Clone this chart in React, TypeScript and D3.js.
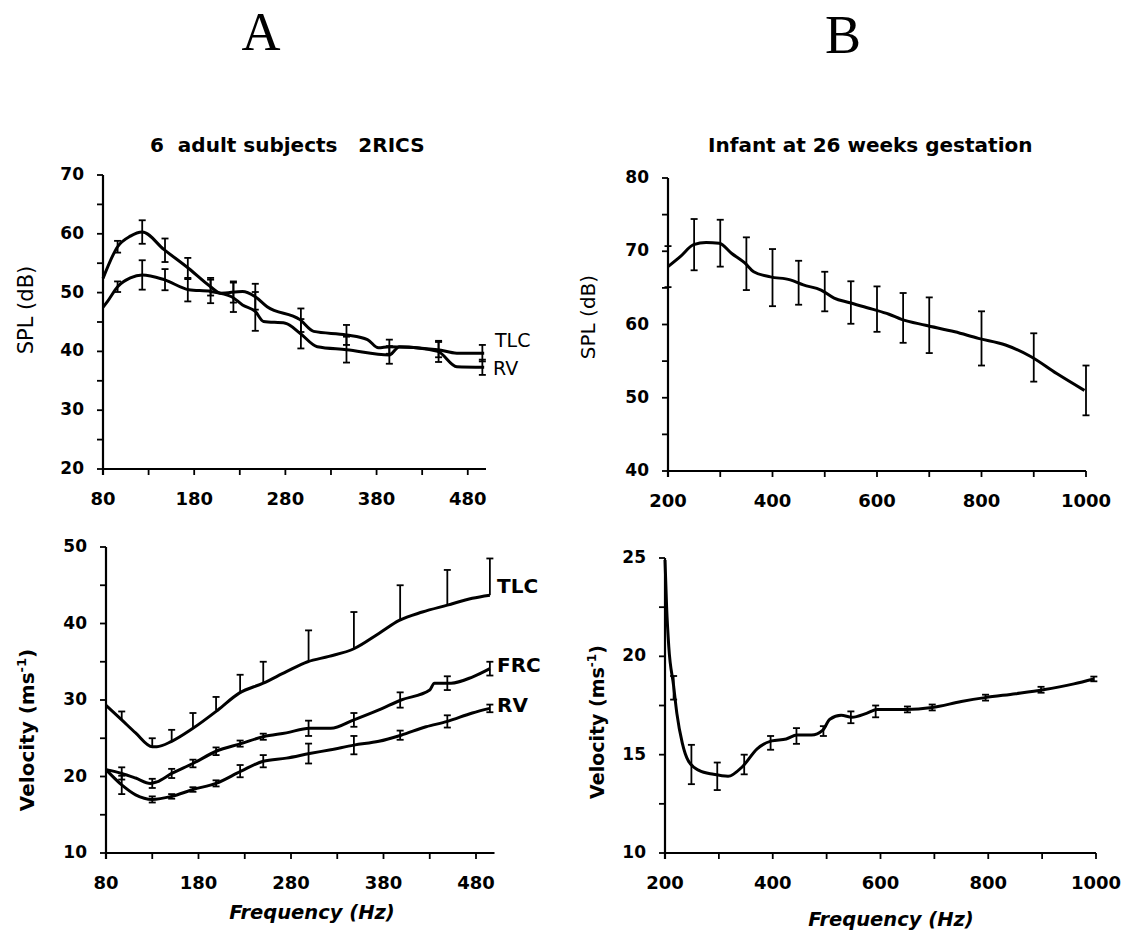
import React from 'react';
import * as d3 from 'd3';

// ---------- Panel A (top): SPL, 6 adult subjects ----------
const aSplTlcFreq = [80, 96, 110, 123, 147, 174, 198, 209, 233, 247, 260, 296, 311, 347, 370, 382, 394, 447, 468, 498];
const aSplTlcVal = [52.4, 57.8, 59.6, 60.3, 57.3, 54.1, 51.0, 49.9, 50.2, 49.3, 47.6, 45.4, 43.4, 42.8, 42.0, 40.6, 40.8, 40.3, 39.7, 39.7];
const aSplRvFreq = [80, 85, 96, 110, 123, 147, 174, 198, 221, 233, 247, 256, 280, 296, 315, 347, 394, 405, 447, 468, 498];
const aSplRvVal = [47.5, 48.5, 51.0, 52.5, 53.0, 52.2, 50.5, 50.2, 49.3, 47.9, 46.8, 45.1, 44.8, 43.1, 40.8, 40.3, 39.4, 40.8, 40.0, 37.4, 37.3];
const aSplErrFreq = [96, 123, 148, 173, 198, 223, 247, 297, 347, 394, 448, 496];
const aSplTlcErrMid = [57.8, 60.3, 57.2, 54.1, 51.0, 50.1, 49.3, 45.3, 42.8, 40.8, 40.3, 39.7];
const aSplTlcErr = [1.0, 2.0, 2.0, 1.8, 1.5, 1.8, 2.2, 2.0, 1.7, 1.2, 1.3, 1.4];
const aSplRvErrMid = [51.0, 53.0, 52.2, 50.5, 50.2, 49.2, 46.8, 43.0, 40.3, 39.4, 40.0, 37.3];
const aSplRvErr = [0.9, 2.5, 1.8, 2.0, 2.0, 2.5, 3.3, 2.5, 2.2, 1.5, 1.8, 1.3];

// ---------- Panel B (top): SPL, infant ----------
const bSplFreq = [200, 224, 249, 273, 298, 322, 347, 364, 396, 434, 459, 493, 518, 546, 591, 623, 647, 693, 749, 794, 846, 895, 944, 997];
const bSplVal = [67.9, 69.3, 70.9, 71.2, 71.1, 69.7, 68.4, 67.2, 66.5, 66.1, 65.4, 64.7, 63.6, 63.0, 62.1, 61.4, 60.7, 59.9, 59.0, 58.1, 57.2, 55.6, 53.3, 51.0];
const bSplErrFreq = [200, 250, 300, 350, 400, 450, 500, 550, 600, 650, 700, 800, 900, 1000];
const bSplErrMid = [67.9, 70.9, 71.1, 68.3, 66.4, 65.7, 64.5, 63.0, 62.1, 60.9, 59.9, 58.1, 55.5, 51.0];
const bSplErr = [2.8, 3.5, 3.2, 3.6, 3.9, 3.0, 2.7, 2.9, 3.1, 3.4, 3.8, 3.7, 3.3, 3.4];

// ---------- Panel A (bottom): velocity, adults ----------
const aVelTlcFreq = [80, 97, 112, 130, 135, 151, 174, 201, 224, 250, 275, 298, 321, 348, 375, 397, 422, 449, 476, 495];
const aVelTlcVal = [29.3, 27.4, 25.7, 23.9, 23.9, 24.6, 26.3, 28.7, 30.9, 32.2, 33.7, 35.0, 35.7, 36.7, 38.7, 40.4, 41.5, 42.4, 43.3, 43.7];
const aVelFrcFreq = [80, 97, 112, 128, 135, 151, 174, 199, 226, 250, 275, 300, 323, 348, 375, 399, 430, 435, 453, 476, 495];
const aVelFrcVal = [20.9, 20.4, 19.8, 19.1, 19.3, 20.4, 21.7, 23.3, 24.3, 25.2, 25.7, 26.3, 26.3, 27.4, 28.7, 30.0, 31.3, 32.2, 32.2, 33.0, 34.1];
const aVelRvFreq = [80, 97, 112, 130, 151, 174, 199, 226, 250, 275, 300, 323, 348, 375, 399, 426, 449, 476, 495];
const aVelRvVal = [20.9, 18.9, 17.6, 17.0, 17.4, 18.3, 19.1, 20.7, 22.0, 22.4, 23.0, 23.5, 24.1, 24.6, 25.4, 26.5, 27.2, 28.3, 28.9];
const aVelErrFreq = [97, 130, 151, 174, 199, 225, 250, 299, 348, 398, 449, 495];
const aVelTlcErrMid = [27.4, 23.9, 24.6, 26.3, 28.7, 30.9, 32.2, 35.0, 36.7, 40.4, 42.4, 43.7];
const aVelTlcErrUp = [1.1, 1.1, 1.5, 2.0, 1.7, 2.4, 2.8, 4.1, 4.8, 4.6, 4.6, 4.8];
const aVelFrcErrMid = [20.4, 19.1, 20.4, 21.7, 23.3, 24.3, 25.2, 26.3, 27.4, 30.0, 32.2, 34.1];
const aVelFrcErr = [0.8, 0.6, 0.6, 0.5, 0.5, 0.4, 0.4, 1.0, 0.9, 1.0, 0.9, 0.9];
const aVelRvErrMid = [18.9, 17.0, 17.4, 18.3, 19.1, 20.7, 22.0, 23.0, 24.1, 25.4, 27.2, 28.9];
const aVelRvErr = [1.2, 0.4, 0.3, 0.3, 0.4, 0.8, 0.8, 1.3, 1.2, 0.6, 0.8, 0.5];

// ---------- Panel B (bottom): velocity, infant ----------
const bVelFreq = [200, 203, 207, 216, 222, 232, 243, 263, 290, 317, 344, 371, 398, 425, 445, 472, 493, 506, 527, 547, 574, 594, 648, 696, 750, 794, 851, 902, 959, 996];
const bVelVal = [24.9, 22.5, 20.5, 18.5, 17.1, 15.6, 14.7, 14.2, 14.0, 13.9, 14.4, 15.3, 15.7, 15.8, 16.0, 16.0, 16.25, 16.8, 17.0, 16.9, 17.1, 17.3, 17.3, 17.4, 17.7, 17.9, 18.1, 18.3, 18.6, 18.85];
const bVelErrFreq = [216, 249, 297, 347, 396, 444, 494, 545, 591, 650, 696, 795, 898, 996];
const bVelErrMid = [18.4, 14.5, 13.9, 14.5, 15.6, 15.95, 16.2, 16.9, 17.2, 17.3, 17.4, 17.9, 18.3, 18.85];
const bVelErr = [0.6, 1.0, 0.7, 0.5, 0.35, 0.4, 0.25, 0.3, 0.3, 0.15, 0.15, 0.15, 0.15, 0.12];

// ---------- Axis ticks ----------
const adultFreqTicks = [80, 130, 180, 230, 280, 330, 380, 430, 480];
const adultFreqLabels = [80, 180, 280, 380, 480];
const infantFreqTicks = [200, 300, 400, 500, 600, 700, 800, 900, 1000];
const infantFreqLabels = [200, 400, 600, 800, 1000];
const aSplTicks = [20, 25, 30, 35, 40, 45, 50, 55, 60, 65, 70];
const aSplLabels = [20, 30, 40, 50, 60, 70];
const bSplTicks = [40, 45, 50, 55, 60, 65, 70, 75, 80];
const bSplLabels = [40, 50, 60, 70, 80];
const aVelTicks = [10, 15, 20, 25, 30, 35, 40, 45, 50];
const aVelLabels = [10, 20, 30, 40, 50];
const bVelTicks = [10, 12.5, 15, 17.5, 20, 22.5, 25];
const bVelLabels = [10, 15, 20, 25];

const SANS = "'DejaVu Sans', Verdana, sans-serif";

type Series = { freq: number[]; values: number[]; key: string };
type ErrSet = { freq: number[]; mid: number[]; err: number[]; upperOnly?: boolean; key: string };
type Label = { text: string; x: number; y: number; bold?: boolean; size: number };

type PanelProps = {
  xDomain: [number, number];
  xRange: [number, number];
  yDomain: [number, number];
  yRange: [number, number];
  xTicks: number[];
  xLabels: number[];
  yTicks: number[];
  yLabels: number[];
  series: Series[];
  errs: ErrSet[];
  labels: Label[];
  xAxisEnd: number;
};

function Panel(p: PanelProps) {
  const x = d3.scaleLinear().domain(p.xDomain).range(p.xRange);
  const y = d3.scaleLinear().domain(p.yDomain).range(p.yRange);
  const x0 = x(p.xDomain[0]);
  const yBottom = y(p.yDomain[0]);
  const yTop = y(p.yDomain[1]);
  const line = d3
    .line<[number, number]>()
    .x((d) => x(d[0]))
    .y((d) => y(d[1]))
    .curve(d3.curveMonotoneX);
  const cap = 3.5;
  return (
    <g>
      {/* axes */}
      <line x1={x0} x2={x0} y1={yTop} y2={yBottom + 6} stroke="#000" strokeWidth={2.2} />
      <line x1={x0} x2={x(p.xAxisEnd)} y1={yBottom} y2={yBottom} stroke="#000" strokeWidth={2.2} />
      {p.yTicks.map((t) => (
        <line key={'yt' + t} x1={x0 - 6} x2={x0} y1={y(t)} y2={y(t)} stroke="#000" strokeWidth={1.8} />
      ))}
      {p.xTicks.map((t) => (
        <line key={'xt' + t} x1={x(t)} x2={x(t)} y1={yBottom} y2={yBottom + 6} stroke="#000" strokeWidth={1.8} />
      ))}
      {p.yLabels.map((t) => (
        <text key={'yl' + t} x={x0 - 19} y={y(t) + 5} textAnchor="end" fontFamily={SANS} fontWeight="bold" fontSize={17}>
          {t}
        </text>
      ))}
      {p.xLabels.map((t) => (
        <text key={'xl' + t} x={x(t)} y={yBottom + 36} textAnchor="middle" fontFamily={SANS} fontWeight="bold" fontSize={18}>
          {t}
        </text>
      ))}
      {/* error bars */}
      {p.errs.map((e) =>
        e.freq.map((f, i) => {
          const lo = e.upperOnly ? e.mid[i] : e.mid[i] - e.err[i];
          const hi = e.mid[i] + e.err[i];
          return (
            <g key={e.key + i}>
              <line x1={x(f)} x2={x(f)} y1={y(lo)} y2={y(hi)} stroke="#000" strokeWidth={1.8} />
              <line x1={x(f) - cap} x2={x(f) + cap} y1={y(hi)} y2={y(hi)} stroke="#000" strokeWidth={1.8} />
              {!e.upperOnly && (
                <line x1={x(f) - cap} x2={x(f) + cap} y1={y(lo)} y2={y(lo)} stroke="#000" strokeWidth={1.8} />
              )}
            </g>
          );
        })
      )}
      {/* curves */}
      {p.series.map((s) => (
        <path
          key={s.key}
          d={line(s.freq.map((f, i) => [f, s.values[i]] as [number, number])) || ''}
          fill="none"
          stroke="#000"
          strokeWidth={3}
          strokeLinejoin="round"
        />
      ))}
      {p.labels.map((l) => (
        <text key={l.text} x={l.x} y={l.y} fontFamily={SANS} fontWeight={l.bold ? 'bold' : 'normal'} fontSize={l.size}>
          {l.text}
        </text>
      ))}
    </g>
  );
}

function VertLabel({ x, y, children, bold, size }: { x: number; y: number; children: React.ReactNode; bold?: boolean; size: number }) {
  return (
    <text
      transform={`translate(${x},${y}) rotate(-90)`}
      textAnchor="middle"
      dy="0.35em"
      fontFamily={SANS}
      fontWeight={bold ? 'bold' : 'normal'}
      fontSize={size}
    >
      {children}
    </text>
  );
}

export default function App() {
  return (
    <svg width={1132} height={943} style={{ position: 'absolute', left: 0, top: 0, background: '#fff' }}>
      <rect width={1132} height={943} fill="#fff" />
      <text x={261} y={50} textAnchor="middle" fontFamily="'Liberation Serif', 'Times New Roman', serif" fontSize={54}>
        A
      </text>
      <text x={843} y={53} textAnchor="middle" fontFamily="'Liberation Serif', 'Times New Roman', serif" fontSize={54}>
        B
      </text>
      <text x={150} y={152} fontFamily={SANS} fontWeight="bold" fontSize={20} style={{ whiteSpace: 'pre' }}>
        {'6  adult subjects   2RICS'}
      </text>
      <text x={708} y={152} fontFamily={SANS} fontWeight="bold" fontSize={20}>
        Infant at 26 weeks gestation
      </text>

      {/* Top left */}
      <Panel
        xDomain={[80, 500]}
        xRange={[103, 486]}
        yDomain={[20, 70]}
        yRange={[469, 175]}
        xTicks={adultFreqTicks}
        xLabels={adultFreqLabels}
        yTicks={aSplTicks}
        yLabels={aSplLabels}
        xAxisEnd={500}
        series={[
          { key: 'tlc', freq: aSplTlcFreq, values: aSplTlcVal },
          { key: 'rv', freq: aSplRvFreq, values: aSplRvVal },
        ]}
        errs={[
          { key: 'etlc', freq: aSplErrFreq, mid: aSplTlcErrMid, err: aSplTlcErr },
          { key: 'erv', freq: aSplErrFreq, mid: aSplRvErrMid, err: aSplRvErr },
        ]}
        labels={[
          { text: 'TLC', x: 495, y: 347, size: 19 },
          { text: 'RV', x: 493, y: 375, size: 19 },
        ]}
      />
      <VertLabel x={26} y={310} size={21}>SPL (dB)</VertLabel>

      {/* Top right */}
      <Panel
        xDomain={[200, 1000]}
        xRange={[668, 1086]}
        yDomain={[40, 80]}
        yRange={[471, 178]}
        xTicks={infantFreqTicks}
        xLabels={infantFreqLabels}
        yTicks={bSplTicks}
        yLabels={bSplLabels}
        xAxisEnd={1000}
        series={[{ key: 'b', freq: bSplFreq, values: bSplVal }]}
        errs={[{ key: 'eb', freq: bSplErrFreq, mid: bSplErrMid, err: bSplErr }]}
        labels={[]}
      />
      <VertLabel x={588} y={317} size={20}>SPL (dB)</VertLabel>

      {/* Bottom left */}
      <Panel
        xDomain={[80, 500]}
        xRange={[106, 494.5]}
        yDomain={[10, 50]}
        yRange={[853, 547]}
        xTicks={adultFreqTicks}
        xLabels={adultFreqLabels}
        yTicks={aVelTicks}
        yLabels={aVelLabels}
        xAxisEnd={500}
        series={[
          { key: 'tlc', freq: aVelTlcFreq, values: aVelTlcVal },
          { key: 'frc', freq: aVelFrcFreq, values: aVelFrcVal },
          { key: 'rv', freq: aVelRvFreq, values: aVelRvVal },
        ]}
        errs={[
          { key: 'etlc', freq: aVelErrFreq, mid: aVelTlcErrMid, err: aVelTlcErrUp, upperOnly: true },
          { key: 'efrc', freq: aVelErrFreq, mid: aVelFrcErrMid, err: aVelFrcErr },
          { key: 'erv', freq: aVelErrFreq, mid: aVelRvErrMid, err: aVelRvErr },
        ]}
        labels={[
          { text: 'TLC', x: 497, y: 593, size: 20, bold: true },
          { text: 'FRC', x: 497, y: 672, size: 20, bold: true },
          { text: 'RV', x: 497, y: 712, size: 20, bold: true },
        ]}
      />
      <VertLabel x={27} y={730} size={20} bold>
        Velocity (ms<tspan dy={-8} fontSize={13}>-1</tspan>
        <tspan dy={8}>)</tspan>
      </VertLabel>
      <text x={312} y={919} textAnchor="middle" fontFamily={SANS} fontWeight="bold" fontStyle="italic" fontSize={19.5}>
        Frequency (Hz)
      </text>

      {/* Bottom right */}
      <Panel
        xDomain={[200, 1000]}
        xRange={[665, 1096]}
        yDomain={[10, 25]}
        yRange={[853, 558]}
        xTicks={infantFreqTicks}
        xLabels={infantFreqLabels}
        yTicks={bVelTicks}
        yLabels={bVelLabels}
        xAxisEnd={1000}
        series={[{ key: 'b', freq: bVelFreq, values: bVelVal }]}
        errs={[{ key: 'eb', freq: bVelErrFreq, mid: bVelErrMid, err: bVelErr }]}
        labels={[]}
      />
      <VertLabel x={597} y={722} size={19} bold>
        Velocity (ms<tspan dy={-8} fontSize={12}>-1</tspan>
        <tspan dy={8}>)</tspan>
      </VertLabel>
      <text x={891} y={926} textAnchor="middle" fontFamily={SANS} fontWeight="bold" fontStyle="italic" fontSize={19.5}>
        Frequency (Hz)
      </text>
    </svg>
  );
}
